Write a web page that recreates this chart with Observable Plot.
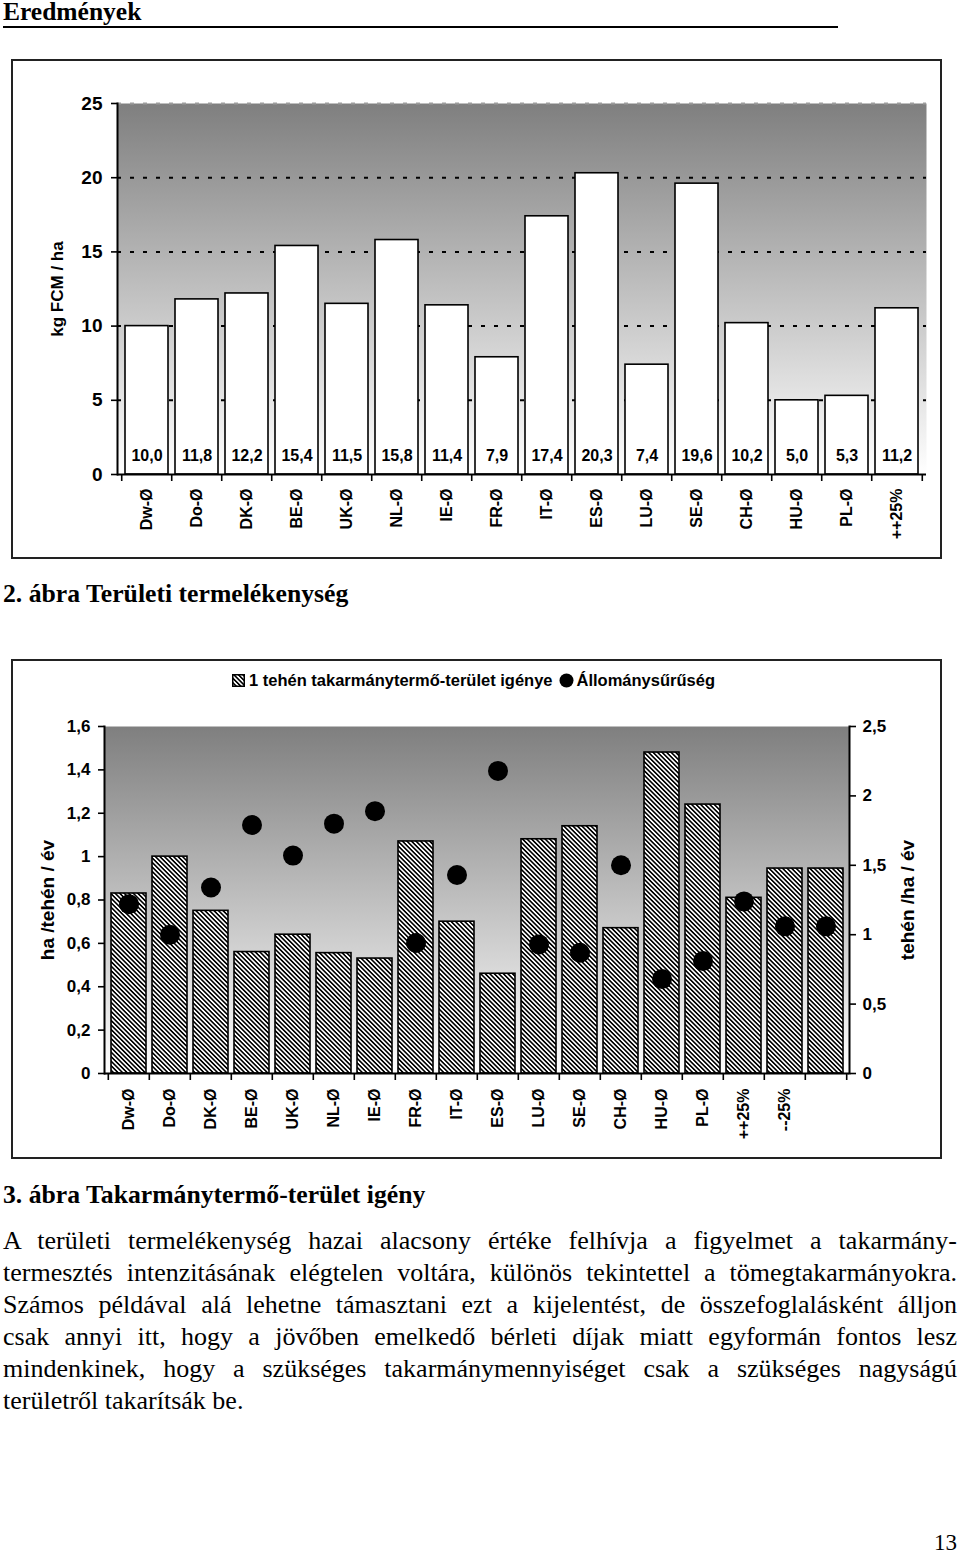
<!DOCTYPE html>
<html><head><meta charset="utf-8">
<script src="https://cdn.jsdelivr.net/npm/d3@7"></script>
<script src="https://cdn.jsdelivr.net/npm/@observablehq/plot@0.6"></script>
<style>
body{margin:0;width:960px;height:1553px;position:relative;background:#fff;overflow:hidden}
.serif{font-family:"Liberation Serif","Times New Roman",serif;color:#000;position:absolute;white-space:nowrap}
.box{position:absolute;border:2px solid #222;box-sizing:border-box;pointer-events:none}
.chart{position:absolute}
.cap{left:3px;font-size:25.7px;font-weight:bold;line-height:30px}
.line{left:3px;width:954px;font-size:26px;line-height:32px;text-align:justify;text-align-last:justify}
.legend{position:absolute;top:671px;left:232px;display:flex;align-items:center;font-family:"Liberation Sans",Arial,sans-serif;font-weight:bold;font-size:16.5px;color:#000;white-space:nowrap}
</style></head><body>
<svg width="0" height="0" style="position:absolute"><defs>
<linearGradient id="bg" x1="0" y1="0" x2="0" y2="1"><stop offset="0" stop-color="#7f7f7f"/><stop offset="1" stop-color="#ffffff"/></linearGradient>
<pattern id="hatch" patternUnits="userSpaceOnUse" width="3.2" height="3.2" patternTransform="rotate(-45)"><rect width="3.2" height="3.2" fill="#fff"/><rect width="1.6" height="3.2" fill="#000"/></pattern>
</defs></svg>

<div class="serif" style="left:3px;top:-3px;font-size:25.5px;font-weight:bold;line-height:30px">Eredmények</div>
<div style="position:absolute;left:3px;top:26px;width:835px;height:2px;background:#000"></div>

<div id="c1" class="chart" style="left:12px;top:60px"></div>
<div class="box" style="left:11px;top:59px;width:931px;height:500px"></div>

<div class="serif cap" style="top:579px">2. ábra Területi termelékenység</div>

<div id="c2" class="chart" style="left:12px;top:660px"></div>
<div class="box" style="left:11px;top:659px;width:931px;height:500px"></div>
<div class="legend">
  <svg width="13" height="13" style="margin-right:4px"><rect x="0.75" y="0.75" width="11.5" height="11.5" fill="url(#hatch)" stroke="#000" stroke-width="1.5"/></svg>
  <span>1 tehén takarmánytermő-terület igénye</span>
  <svg width="15" height="15" style="margin-left:6px;margin-right:3px"><circle cx="7.5" cy="7.5" r="7" fill="#000"/></svg>
  <span>Állománysűrűség</span>
</div>

<div class="serif cap" style="top:1180px">3. ábra Takarmánytermő-terület igény</div>

<div class="serif line" style="top:1225px">A területi termelékenység hazai alacsony értéke felhívja a figyelmet a takarmány-</div>
<div class="serif line" style="top:1257px">termesztés intenzitásának elégtelen voltára, különös tekintettel a tömegtakarmányokra.</div>
<div class="serif line" style="top:1289px">Számos példával alá lehetne támasztani ezt a kijelentést, de összefoglalásként álljon</div>
<div class="serif line" style="top:1321px">csak annyi itt, hogy a jövőben emelkedő bérleti díjak miatt egyformán fontos lesz</div>
<div class="serif line" style="top:1353px">mindenkinek, hogy a szükséges takarmánymennyiséget csak a szükséges nagyságú</div>
<div class="serif line" style="top:1385px;text-align-last:left">területről takarítsák be.</div>

<div class="serif" style="left:934px;top:1528px;font-size:23px;line-height:30px">13</div>

<script>
// ---- Chart 1 data: Területi termelékenység ----
const cat1 = ["Dw-Ø","Do-Ø","DK-Ø","BE-Ø","UK-Ø","NL-Ø","IE-Ø","FR-Ø","IT-Ø","ES-Ø","LU-Ø","SE-Ø","CH-Ø","HU-Ø","PL-Ø","++25%"];
const prod = [10.0,11.8,12.2,15.4,11.5,15.8,11.4,7.9,17.4,20.3,7.4,19.6,10.2,5.0,5.3,11.2];
const yTicks1 = [0,5,10,15,20,25];
const grid1 = [5,10,15,20];
const yTitle1 = "kg FCM / ha";

// ---- Chart 2 data: Takarmánytermő-terület igény ----
const cat2 = ["Dw-Ø","Do-Ø","DK-Ø","BE-Ø","UK-Ø","NL-Ø","IE-Ø","FR-Ø","IT-Ø","ES-Ø","LU-Ø","SE-Ø","CH-Ø","HU-Ø","PL-Ø","++25%","--25%"," "];
const area = [0.83,1.00,0.75,0.56,0.64,0.555,0.53,1.07,0.70,0.46,1.08,1.14,0.67,1.48,1.24,0.81,0.945,0.945];
const density = [1.22,1.00,1.34,1.79,1.57,1.80,1.89,0.94,1.43,2.18,0.93,0.87,1.50,0.68,0.81,1.24,1.06,1.06];
const yTicksLeft = [0,0.2,0.4,0.6,0.8,1,1.2,1.4,1.6];
const yTicksRight = [0,0.5,1,1.5,2,2.5];
const yTitleLeft = "ha /tehén / év";
const yTitleRight = "tehén /ha / év";

const font = "Liberation Sans, Arial, Helvetica, sans-serif";
const comma = d => String(d).replace(".", ",");

// Chart 1
{
  const W = 929, H = 498, mL = 105, mR = 15, mT = 43, mB = 84;
  const step = (W - mL - mR) / cat1.length;
  const t1 = cat1.map((c, i) => ({cat: c, v: prod[i]}));
  const svg = Plot.plot({
    width: W, height: H, marginLeft: mL, marginRight: mR, marginTop: mT, marginBottom: mB,
    style: {fontFamily: font, background: "transparent", overflow: "visible", color: "#000"},
    x: {domain: cat1, paddingInner: 0.15, paddingOuter: 0.075, label: null},
    y: {domain: [0, 25], label: null},
    marks: [
      Plot.frame({fill: "url(#bg)", stroke: null}),
      Plot.ruleY([25], {stroke: "#9c9c9c", strokeWidth: 2, strokeDasharray: "4,9"}),
      Plot.ruleY(grid1, {stroke: "#000", strokeWidth: 2, strokeDasharray: "4,9"}),
      Plot.barY(t1, {x: "cat", y: "v", fill: "#fff", stroke: "#000", strokeWidth: 1.6}),
      Plot.text(t1, {x: "cat", y: () => 0, dy: -19, text: d => d.v.toFixed(1).replace(".", ","), fontSize: 16, fontWeight: "bold", fill: "#000"}),
      Plot.ruleY([0], {stroke: "#000", strokeWidth: 2}),
      Plot.frame({anchor: "left", stroke: "#000", strokeWidth: 2}),
      Plot.axisY(yTicks1, {anchor: "left", tickSize: 6, tickPadding: 9, strokeWidth: 1.6, fontSize: 19, fontWeight: "bold", label: null, tickFormat: comma}),
      Plot.axisX({tickSize: 0, tickPadding: 14, tickRotate: -90, fontSize: 16, fontWeight: "bold", label: null}),
      Plot.axisX({tickSize: 7, strokeWidth: 1.6, tickFormat: () => "", label: null, dx: -step / 2}),
      Plot.axisX([cat1[cat1.length - 1]], {tickSize: 7, strokeWidth: 1.6, tickFormat: () => "", label: null, dx: step / 2}),
      Plot.text([yTitle1], {frameAnchor: "left", textAnchor: "middle", rotate: -90, dx: -60, fontSize: 17, fontWeight: "bold", fill: "#000"})
    ]
  });
  document.getElementById("c1").append(svg);
}

// Chart 2
{
  const W = 929, H = 498, mL = 92, mR = 92, mT = 66, mB = 85;
  const step = (W - mL - mR) / cat2.length;
  const k = 1.6 / 2.5;
  const t2 = cat2.map((c, i) => ({cat: c, a: area[i], d: density[i]}));
  const svg = Plot.plot({
    width: W, height: H, marginLeft: mL, marginRight: mR, marginTop: mT, marginBottom: mB,
    style: {fontFamily: font, background: "transparent", overflow: "visible", color: "#000"},
    x: {domain: cat2, paddingInner: 0.15, paddingOuter: 0.075, label: null},
    y: {domain: [0, 1.6], label: null},
    marks: [
      Plot.frame({fill: "url(#bg)", stroke: null}),
      Plot.barY(t2, {x: "cat", y: "a", fill: "url(#hatch)", stroke: "#000", strokeWidth: 1.6}),
      Plot.dot(t2, {x: "cat", y: d => d.d * k, r: 10, fill: "#000", stroke: null}),
      Plot.ruleY([0], {stroke: "#000", strokeWidth: 2}),
      Plot.frame({anchor: "left", stroke: "#000", strokeWidth: 2}),
      Plot.frame({anchor: "right", stroke: "#000", strokeWidth: 2}),
      Plot.axisY(yTicksLeft, {anchor: "left", tickSize: 6, tickPadding: 8, strokeWidth: 1.6, fontSize: 17, fontWeight: "bold", label: null, tickFormat: comma}),
      Plot.axisY(yTicksRight.map(v => v * k), {anchor: "right", tickSize: 6, tickPadding: 7, strokeWidth: 1.6, fontSize: 17, fontWeight: "bold", label: null, tickFormat: d => comma(Math.round(d / k * 10) / 10)}),
      Plot.axisX({tickSize: 0, tickPadding: 15, tickRotate: -90, fontSize: 16, fontWeight: "bold", label: null}),
      Plot.axisX({tickSize: 7, strokeWidth: 1.6, tickFormat: () => "", label: null, dx: -step / 2}),
      Plot.axisX([cat2[cat2.length - 1]], {tickSize: 7, strokeWidth: 1.6, tickFormat: () => "", label: null, dx: step / 2}),
      Plot.text([yTitleLeft], {frameAnchor: "left", textAnchor: "middle", rotate: -90, dx: -57, fontSize: 19, fontWeight: "bold", fill: "#000"}),
      Plot.text([yTitleRight], {frameAnchor: "right", textAnchor: "middle", rotate: -90, dx: 58, fontSize: 19, fontWeight: "bold", fill: "#000"})
    ]
  });
  document.getElementById("c2").append(svg);
}
</script>
</body></html>
